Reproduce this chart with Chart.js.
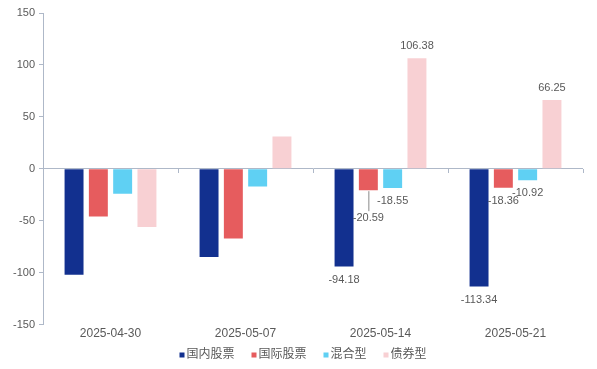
<!DOCTYPE html>
<html>
<head>
<meta charset="utf-8">
<script src="https://cdn.jsdelivr.net/npm/chart.js@4"></script>
<style>
html,body{margin:0;padding:0;background:#fff;}
#wrap{width:597px;height:369px;position:relative;}
</style>
</head>
<body>
<div id="wrap"><canvas id="c" width="597" height="369"></canvas></div>
<script>
const categories = ['2025-04-30', '2025-05-07', '2025-05-14', '2025-05-21'];
const seriesNames = ['国内股票', '国际股票', '混合型', '债券型'];
const domesticStocks = [-102, -85, -94.18, -113.34];
const intlStocks = [-46, -67, -20.59, -18.36];
const mixedFunds = [-24, -17, -18.55, -10.92];
const bondFunds = [-56, 31, 106.38, 66.25];
const labeledCategories = [2, 3];
const yTicks = [-150, -100, -50, 0, 50, 100, 150];

const colors = ['#12308f', '#e65c5e', '#5fd0f3', '#f8d0d3'];
const axisColor = '#aeb8c8';
const textColor = '#595959';
const fontFamily = 'Arial, "Liberation Sans", "Noto Sans CJK SC", sans-serif';

const valueLabels = {
  id: 'valueLabels',
  afterDatasetsDraw(chart) {
    const ctx = chart.ctx;
    ctx.save();
    ctx.font = '11px ' + fontFamily;
    ctx.fillStyle = textColor;
    ctx.textAlign = 'center';
    ctx.textBaseline = 'middle';
    chart.data.datasets.forEach((ds, di) => {
      const meta = chart.getDatasetMeta(di);
      labeledCategories.forEach(ci => {
        const v = ds.data[ci];
        const bar = meta.data[ci];
        const txt = v.toFixed(2);
        if (v >= 0) {
          ctx.fillText(txt, bar.x, bar.y - 12);
        } else if (di === 1 && ci === 2) {
          ctx.strokeStyle = '#8a8a8a';
          ctx.lineWidth = 1;
          ctx.beginPath();
          ctx.moveTo(bar.x + 0.5, bar.y + 1);
          ctx.lineTo(bar.x + 0.5, bar.y + 21);
          ctx.stroke();
          ctx.fillText(txt, bar.x, bar.y + 28);
        } else {
          ctx.fillText(txt, bar.x, bar.y + 13);
        }
      });
    });
    ctx.restore();
  }
};

// compact bottom legend built from the chart's datasets
const compactLegend = {
  id: 'compactLegend',
  afterDraw(chart) {
    const ctx = chart.ctx;
    ctx.save();
    ctx.font = '12px ' + fontFamily;
    ctx.textBaseline = 'middle';
    ctx.textAlign = 'left';
    const box = 5, gapBoxText = 2, gapItems = 17;
    const items = chart.data.datasets.map(d => ({ label: d.label, color: d.backgroundColor, w: ctx.measureText(d.label).width }));
    const total = items.reduce((s, it) => s + box + gapBoxText + it.w, 0) + gapItems * (items.length - 1);
    let x = 303 - total / 2;
    const y = 355;
    items.forEach(it => {
      ctx.fillStyle = it.color;
      ctx.fillRect(x, y - box / 2, box, box);
      ctx.fillStyle = textColor;
      ctx.fillText(it.label, x + box + gapBoxText, y);
      x += box + gapBoxText + it.w + gapItems;
    });
    ctx.restore();
  }
};

const ds = [domesticStocks, intlStocks, mixedFunds, bondFunds].map((d, i) => ({
  label: seriesNames[i],
  data: d,
  backgroundColor: colors[i],
  borderWidth: 0,
  categoryPercentage: 0.72,
  barPercentage: 0.78
}));

new Chart(document.getElementById('c'), {
  type: 'bar',
  data: { labels: categories, datasets: ds },
  options: {
    responsive: false,
    animation: false,
    devicePixelRatio: 1,
    layout: { padding: { top: 13, right: 14, left: 0, bottom: 26 } },
    plugins: {
      tooltip: { enabled: false },
      legend: { display: false }
    },
    scales: {
      x: {
        grid: { display: false, drawTicks: false, tickLength: 0 },
        border: { display: false },
        ticks: { color: textColor, font: { size: 12, family: fontFamily }, padding: 2 }
      },
      x2: {
        position: { y: 0 },
        grid: { offset: true, drawOnChartArea: false, tickLength: 4, color: axisColor },
        border: { display: false },
        ticks: { display: false }
      },
      y: {
        min: -150,
        max: 150,
        afterFit(scale) { scale.width = 43; },
        afterBuildTicks(scale) { scale.ticks = yTicks.map(v => ({ value: v })); },
        grid: {
          color: c => (c.tick && c.tick.value === 0 ? axisColor : 'rgba(0,0,0,0)'),
          tickColor: axisColor,
          tickLength: 4
        },
        border: { display: true, color: axisColor },
        ticks: { color: textColor, font: { size: 11, family: fontFamily }, padding: 4 }
      }
    }
  },
  plugins: [valueLabels, compactLegend]
});
</script>
</body>
</html>
